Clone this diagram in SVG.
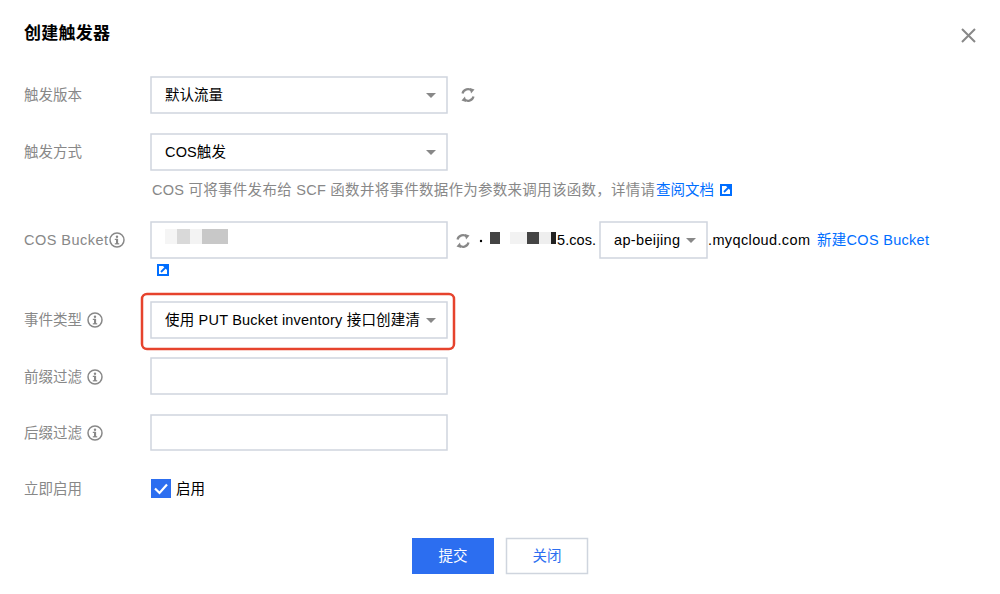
<svg xmlns="http://www.w3.org/2000/svg" width="1000" height="594" viewBox="0 0 1000 594">
<defs>
<style>
text{font-family:"Liberation Sans","Noto Sans CJK SC",sans-serif;}
.title{font-size:17px;font-weight:bold;fill:#000;}
.lbl{font-size:14.5px;fill:#888;}
.val{font-size:14.5px;fill:#000;}
.help{font-size:14.5px;fill:#888;}
.link{font-size:14.5px;fill:#006eff;}
.box{fill:#fff;stroke:#cfd5de;stroke-width:1.5;}
.caret{fill:#888;}
.info{fill:none;stroke:#888;stroke-width:1.5;}
.infoi{fill:#888;}
.ref{fill:none;stroke:#888;stroke-width:2.2;}
</style>
<g id="infoIcon">
<circle class="info" cx="0" cy="0" r="7"/>
<circle class="infoi" cx="0" cy="-3.3" r="1.2"/>
<rect class="infoi" x="-1" y="-1.2" width="2.1" height="5.2"/>
<rect class="infoi" x="-2.2" y="-1.2" width="2" height="1.2"/>
<rect class="infoi" x="-2.2" y="3.2" width="4.4" height="1.2"/>
</g>
<g id="refresh">
<path class="ref" d="M -5.5 -1.5 A 5.6 5.6 0 0 1 4 -4"/>
<path class="infoi" d="M 2 -7 L 6.5 -5.5 L 3 -1.5 Z"/>
<path class="ref" d="M 5.5 1.5 A 5.6 5.6 0 0 1 -4 4"/>
<path class="infoi" d="M -2 7 L -6.5 5.5 L -3 1.5 Z"/>
</g>
<g id="extlink">
<rect x="0" y="0" width="12" height="12" fill="#006eff"/>
<rect x="2" y="2" width="6" height="8" fill="#fff"/>
<rect x="2" y="4" width="8" height="6" fill="#fff"/>
<path d="M 4 8 L 9.5 2.5" stroke="#006eff" stroke-width="1.8"/>
<path d="M 6 2 L 10 2 L 10 6 Z" fill="#006eff"/>
</g>
</defs>
<rect width="1000" height="594" fill="#fff"/>

<g id="header">
<text class="title" x="24" y="39" textLength="86">创建触发器</text>
<path d="M 962 29 L 975 42 M 975 29 L 962 42" stroke="#888" stroke-width="2"/>
</g>

<g id="row-version">
<text class="lbl" x="24" y="100">触发版本</text>
<rect class="box" x="151" y="77" width="296" height="36"/>
<text class="val" x="165" y="100">默认流量</text>
<path class="caret" d="M 426 93 L 436 93 L 431 98 Z"/>
<use href="#refresh" x="468" y="95"/>
</g>

<g id="row-type">
<text class="lbl" x="24" y="157">触发方式</text>
<rect class="box" x="151" y="134" width="296" height="36"/>
<text class="val" x="165" y="157" textLength="61">COS触发</text>
<path class="caret" d="M 426 150 L 436 150 L 431 155 Z"/>
<text class="help" x="152" y="195" textLength="503">COS 可将事件发布给 SCF 函数并将事件数据作为参数来调用该函数，详情请</text>
<text class="link" x="656" y="195" textLength="58">查阅文档</text>
<use href="#extlink" x="720" y="184"/>
</g>

<g id="row-bucket">
<text class="lbl" x="24" y="245" textLength="84">COS Bucket</text>
<use href="#infoIcon" x="117" y="240"/>
<rect class="box" x="151" y="222" width="296" height="36"/>
<rect x="165" y="229" width="12" height="15" fill="#f5f5f5"/>
<rect x="177" y="229" width="13" height="15" fill="#d9d9d9"/>
<rect x="190" y="229" width="12" height="15" fill="#f3f3f3"/>
<rect x="202" y="229" width="26" height="15" fill="#c8c8c8"/>
<use href="#extlink" x="157" y="264"/>
<use href="#refresh" x="463" y="241"/>
<circle cx="481" cy="241" r="1.2" fill="#000"/>
<rect x="490" y="232" width="10" height="12" fill="#444"/>
<rect x="510" y="232" width="17" height="12" fill="#f2f2f2"/>
<rect x="527" y="232" width="12" height="12" fill="#444"/>
<rect x="539" y="232" width="12" height="12" fill="#eeeeee"/>
<rect x="551" y="232" width="5" height="12" fill="#222"/>
<text class="val" x="557" y="245" textLength="39">5.cos.</text>
<rect class="box" x="600" y="222" width="107" height="36"/>
<text class="val" x="614" y="245" textLength="66">ap-beijing</text>
<path class="caret" d="M 686 238 L 696 238 L 691 243 Z"/>
<text class="val" x="708" y="245" textLength="102">.myqcloud.com</text>
<text class="link" x="817" y="245" textLength="112">新建COS Bucket</text>
</g>

<g id="row-event">
<text class="lbl" x="24" y="325">事件类型</text>
<use href="#infoIcon" x="95" y="320"/>
<rect class="box" x="151" y="302" width="296" height="36"/>
<text class="val" x="165" y="325" textLength="255">使用 PUT Bucket inventory 接口创建清</text>
<path class="caret" d="M 426 318 L 436 318 L 431 323 Z"/>
<rect x="142" y="294" width="312" height="55" rx="5" fill="none" stroke="#e6432d" stroke-width="2.5"/>
</g>

<g id="row-prefix">
<text class="lbl" x="24" y="382">前缀过滤</text>
<use href="#infoIcon" x="95" y="377"/>
<rect class="box" x="151" y="358" width="296" height="36"/>
</g>

<g id="row-suffix">
<text class="lbl" x="24" y="438">后缀过滤</text>
<use href="#infoIcon" x="95" y="433"/>
<rect class="box" x="151" y="415" width="296" height="35"/>
</g>

<g id="row-enable">
<text class="lbl" x="24" y="494">立即启用</text>
<rect x="151" y="479" width="20" height="19" fill="#2c6ef0"/>
<path d="M 155 488.5 L 159.5 493 L 167 484.5" fill="none" stroke="#fff" stroke-width="2.2"/>
<text class="val" x="176" y="494">启用</text>
</g>

<g id="buttons">
<rect x="412" y="538" width="82" height="36" fill="#2c6ef0"/>
<text x="453" y="561" font-size="14.5" fill="#fff" text-anchor="middle">提交</text>
<rect x="506.5" y="538.5" width="81" height="35" fill="#fff" stroke="#cfd5de" stroke-width="1.5"/>
<text x="547" y="561" font-size="14.5" fill="#2c6ef0" text-anchor="middle">关闭</text>
</g>
</svg>
